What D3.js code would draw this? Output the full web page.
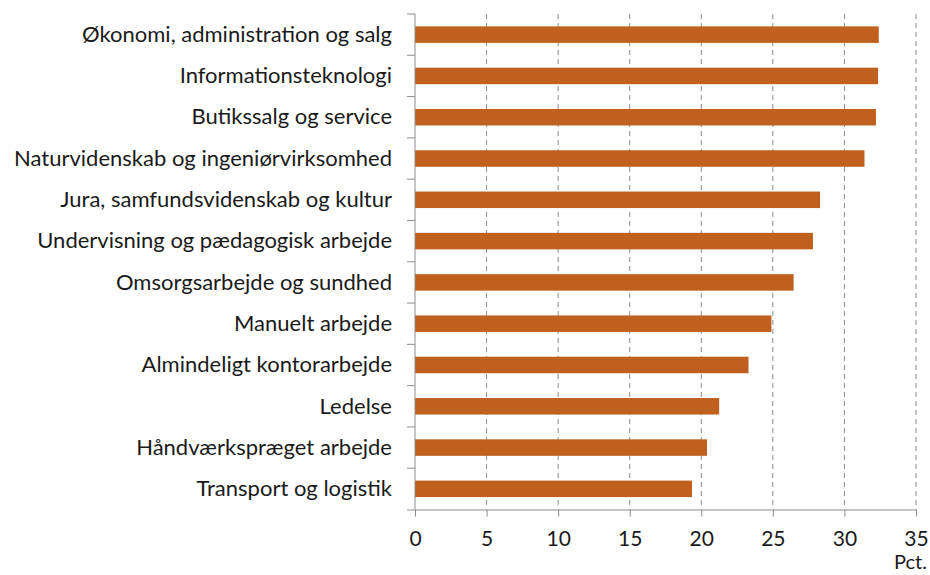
<!DOCTYPE html>
<html>
  <head>
    <meta charset="utf-8">
    <title>Andel pr. stillingskategori</title>
    <script src="https://d3js.org/d3.v7.min.js"></script>
    <style>
      body { margin: 0; background: #fff; }
      text { font-family: Lato, "Open Sans", sans-serif; fill: #1a1a1a; }
      .grid line { stroke: #8c8c8c; stroke-dasharray: 5,4; }
    </style>
  </head>
  <body>
    <div id="chart"></div>
    <script>

      var categories = [
        "Økonomi, administration og salg",
        "Informationsteknologi",
        "Butikssalg og service",
        "Naturvidenskab og ingeniørvirksomhed",
        "Jura, samfundsvidenskab og kultur",
        "Undervisning og pædagogisk arbejde",
        "Omsorgsarbejde og sundhed",
        "Manuelt arbejde",
        "Almindeligt kontorarbejde",
        "Ledelse",
        "Håndværkspræget arbejde",
        "Transport og logistik"
      ];
      var values = [32.4, 32.35, 32.2, 31.4, 28.3, 27.8, 26.45, 24.9, 23.3, 21.25, 20.4, 19.35];
      var xTicks = [0, 5, 10, 15, 20, 25, 30, 35];
      var unit = "Pct.";

      var width = 930, height = 575;
      var plotLeft = 415, plotRight = 916, plotTop = 14, plotBottom = 509.5;

      var svg = d3.select("#chart").append("svg")
        .attr("width", width)
        .attr("height", height);

      var x = d3.scaleLinear().domain([0, 35]).range([plotLeft, plotRight]);
      var y = d3.scaleBand().domain(categories).range([plotTop, plotBottom]).paddingInner(0.6).paddingOuter(0.3);

      // dashed vertical gridlines
      svg.append("g").attr("class", "grid")
        .selectAll("line")
        .data(xTicks.filter((t) => t > 0))
        .enter().append("line")
          .attr("x1", (d) => x(d)).attr("x2", (d) => x(d))
          .attr("y1", plotTop).attr("y2", plotBottom);

      svg.append("g")
        .selectAll("rect")
        .data(values)
        .enter().append("rect")
          .attr("x", x(0))
          .attr("y", (d, i) => y(categories[i]))
          .attr("width", (d) => x(d) - x(0))
          .attr("height", y.bandwidth())
          .attr("fill", "#c0601e");

      // x axis
      var xAxis = svg.append("g")
        .attr("transform", "translate(0," + plotBottom + ")")
        .call(d3.axisBottom(x).tickValues(xTicks).tickSizeInner(7).tickSizeOuter(0).tickPadding(15));
      xAxis.select(".domain").attr("stroke", "#8c8c8c")
        .attr("d", "M" + (plotLeft - 8) + ",0.5H" + plotRight);
      xAxis.selectAll(".tick line").attr("stroke", "#8c8c8c");
      xAxis.selectAll("text").style("font-size", "21px").attr("fill", "#1a1a1a");

      // y axis with ticks at band boundaries
      var step = (plotBottom - plotTop) / categories.length;
      var yAxis = svg.append("g");
      yAxis.append("line")
        .attr("x1", plotLeft).attr("x2", plotLeft)
        .attr("y1", plotTop).attr("y2", plotBottom)
        .attr("stroke", "#8c8c8c");
      yAxis.selectAll("line.tk")
        .data(d3.range(categories.length))
        .enter().append("line")
          .attr("class", "tk")
          .attr("x1", plotLeft - 8).attr("x2", plotLeft)
          .attr("y1", (d) => plotTop + d * step).attr("y2", (d) => plotTop + d * step)
          .attr("stroke", "#8c8c8c");
      yAxis.selectAll("text")
        .data(categories)
        .enter().append("text")
          .attr("x", 392)
          .attr("y", (d) => y(d) + y.bandwidth() / 2)
          .attr("dy", "0.33em")
          .attr("text-anchor", "end")
          .style("font-size", "22px")
          .text((d) => d);

      svg.append("text")
        .attr("x", 927)
        .attr("y", 569)
        .attr("text-anchor", "end")
        .style("font-size", "20px")
        .text(unit);

    </script>
  </body>
</html>
